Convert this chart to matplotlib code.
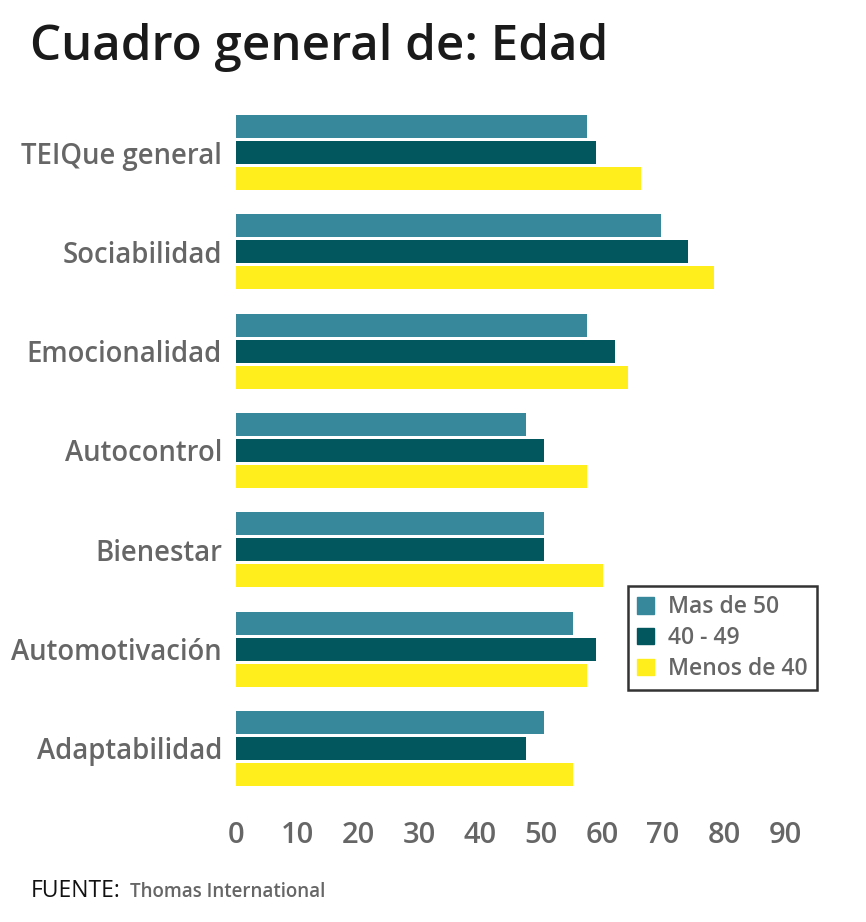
import numpy as np
import matplotlib.pyplot as plt
from matplotlib.patches import Patch

categories = ["TEIQue general", "Sociabilidad", "Emocionalidad", "Autocontrol",
              "Bienestar", "Automotivación", "Adaptabilidad"]
series_names = ["Mas de 50", "40 - 49", "Menos de 40"]
mas_de_50 = [57.5, 69.7, 57.5, 47.5, 50.5, 55.2, 50.5]
de_40_49 = [59.0, 74.1, 62.1, 50.5, 50.5, 59.0, 47.5]
menos_de_40 = [66.4, 78.3, 64.3, 57.5, 60.2, 57.5, 55.2]
xticks = [0, 10, 20, 30, 40, 50, 60, 70, 80, 90]

colors = ["#38889C", "#02565E", "#FFED1C"]
grey = "#666666"
plt.rcParams['font.family'] = ['Open Sans', 'DejaVu Sans']

fig = plt.figure(figsize=(8.66, 9.22), dpi=100)
W, H = 866, 922
ax = fig.add_axes([236 / W, 1 - 800 / H, (785 - 236) / W, 700 / H])

y = np.arange(len(categories))
h = 0.232
for k, (vals, off) in enumerate(zip([mas_de_50, de_40_49, menos_de_40], [-0.262, 0, 0.262])):
    ax.barh(y + off, vals, height=h, color=colors[k], label=series_names[k])

ax.set_xlim(0, 90)
ax.set_ylim(6.52, -0.53)
ax.set_yticks(y)
ax.set_yticklabels(categories, fontsize=19.8, color=grey, fontweight='semibold')
ax.set_xticks(xticks)
ax.set_xticklabels([str(t) for t in xticks], fontsize=21, color=grey, fontweight='semibold')
ax.tick_params(axis='both', length=0)
ax.tick_params(axis='y', pad=10)
ax.tick_params(axis='x', pad=15)
for s in ax.spines.values():
    s.set_visible(False)

handles = [Patch(color=c, label=n) for c, n in zip(colors, series_names)]
leg = ax.legend(handles=handles, loc='upper left', bbox_to_anchor=((628 - 236) / 549, 1 - (586 - 100) / 700),
                borderaxespad=0, prop={'size': 16.5, 'weight': 'semibold'}, frameon=True, fancybox=False,
                borderpad=0.4, handlelength=0.75, handleheight=0.75, handletextpad=0.6, labelspacing=0.3)
leg.get_frame().set_edgecolor('black')
leg.get_frame().set_linewidth(1.8)
for t in leg.get_texts():
    t.set_color(grey)

fig.text(30 / W, 1 - 48 / H, "Cuadro general de: Edad", fontsize=35.5, fontweight='semibold',
         color='#1a1a1a', va='center', ha='left')
fig.text(31 / W, 1 - 891 / H, "FUENTE:", fontsize=16.5, color='#111111', fontweight='medium',
         va='center', ha='left')
fig.text(130 / W, 1 - 892 / H, "Thomas International", fontsize=13.5, color=grey,
         fontweight='semibold', va='center', ha='left')

fig.savefig("out.png", dpi=100)
